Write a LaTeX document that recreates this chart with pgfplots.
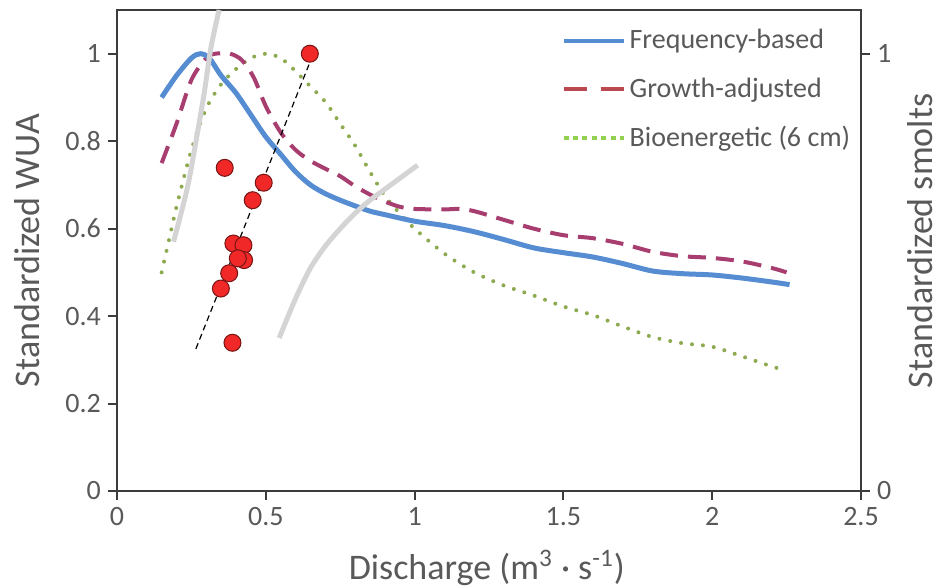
\documentclass[border=0pt]{standalone}
\usepackage{pgfplots}
\pgfplotsset{compat=1.18}
\usepackage{fontspec}
\setmainfont{Carlito}
\usetikzlibrary{calc}
\definecolor{cblue}{RGB}{86,140,210}
\definecolor{cgrowth}{RGB}{168,62,112}
\definecolor{cgrowthleg}{RGB}{185,72,80}
\definecolor{cbio}{RGB}{140,170,80}
\definecolor{cbioleg}{RGB}{146,208,80}
\definecolor{cgray}{RGB}{212,212,212}
\definecolor{cred}{RGB}{240,40,40}
\definecolor{credge}{RGB}{120,20,20}
\definecolor{ctext}{RGB}{89,89,89}
\definecolor{caxis}{RGB}{60,60,60}
\pgfplotsset{legend image code/.code={\draw[#1] (0pt,0pt) -- (30pt,0pt);}}
\begin{document}
\begin{tikzpicture}
\begin{axis}[
  scale only axis, width=372pt, height=240.5pt,
  xmin=0, xmax=2.5, ymin=0, ymax=1.1,
  xtick={0,0.5,1,1.5,2,2.5},
  ytick={0,0.2,0.4,0.6,0.8,1},
  xtick pos=bottom, ytick pos=left,
  tick align=outside, major tick length=4.5pt,
  axis line style={caxis, line width=1pt},
  every tick/.style={caxis, line width=1pt},
  /pgf/number format/assume math mode=true,
  tick label style={font=\fontsize{14}{16}\selectfont, text=ctext},
  xlabel={Discharge (m\textsuperscript{3} · s\textsuperscript{-1})},
  ylabel={Standardized WUA},
  label style={font=\fontsize{18}{20}\selectfont, text=ctext},
  xlabel style={at={(axis description cs:0.497,-0.16)}, anchor=center},
  ylabel style={at={(axis description cs:-0.121,0.5)}, anchor=center},
  legend style={at={(axis description cs:0.589,0.977)}, anchor=north west,
    draw=none, fill=none, font=\fontsize{14}{16}\selectfont, text=ctext,
    row sep=9pt, /tikz/every even column/.append style={column sep=6pt}},
  legend cell align=left,
]
\coordinate (bl) at (rel axis cs:0,0);
\coordinate (tr) at (rel axis cs:1,1);
\addlegendimage{cblue, line width=2pt}
\addlegendentry{Frequency-based}
\addlegendimage{cgrowthleg, line width=2pt, dash pattern=on 11.5pt off 7pt}
\addlegendentry{Growth-adjusted}
\addlegendimage{cbioleg, line width=2pt, dash pattern=on 2.5pt off 2.2pt}
\addlegendentry{Bioenergetic (6 cm)}
% Bioenergetic
\addplot[cbio, line width=2pt, line cap=round, dash pattern=on 0pt off 5.5pt, smooth, forget plot] coordinates {
(0.15,0.50)(0.17,0.56)(0.2,0.65)(0.25,0.78)(0.3,0.875)(0.35,0.93)(0.4,0.965)(0.45,0.99)(0.5,1.0)(0.55,0.99)(0.6,0.96)(0.65,0.925)(0.7,0.89)(0.75,0.84)(0.8,0.79)(0.85,0.73)(0.9,0.675)(0.95,0.635)(1.0,0.6)(1.1,0.543)(1.2,0.5)(1.3,0.47)(1.4,0.447)(1.5,0.422)(1.6,0.402)(1.7,0.376)(1.8,0.352)(1.9,0.338)(2.0,0.33)(2.1,0.308)(2.2,0.285)(2.25,0.275)};
% Growth-adjusted
\addplot[cgrowth, line width=2pt, dash pattern=on 9pt off 5pt, smooth, forget plot] coordinates {
(0.15,0.75)(0.2,0.84)(0.25,0.94)(0.3,0.99)(0.33,1.0)(0.38,1.0)(0.42,0.985)(0.46,0.945)(0.5,0.88)(0.55,0.82)(0.6,0.78)(0.65,0.755)(0.7,0.737)(0.75,0.72)(0.8,0.697)(0.85,0.678)(0.9,0.662)(0.95,0.65)(1.0,0.645)(1.1,0.644)(1.15,0.645)(1.2,0.64)(1.3,0.62)(1.4,0.6)(1.5,0.585)(1.6,0.578)(1.7,0.565)(1.8,0.547)(1.9,0.537)(2.0,0.533)(2.1,0.525)(2.2,0.51)(2.25,0.50)};
% Frequency-based
\addplot[cblue, line width=2.5pt, smooth, forget plot] coordinates {
(0.15,0.90)(0.2,0.95)(0.25,0.99)(0.28,1.0)(0.31,0.99)(0.35,0.95)(0.4,0.91)(0.45,0.86)(0.5,0.81)(0.55,0.77)(0.6,0.73)(0.65,0.70)(0.7,0.68)(0.75,0.665)(0.8,0.652)(0.85,0.64)(0.9,0.632)(1.0,0.617)(1.1,0.607)(1.2,0.593)(1.3,0.575)(1.4,0.556)(1.5,0.545)(1.6,0.535)(1.7,0.52)(1.8,0.503)(1.9,0.497)(2.0,0.494)(2.1,0.487)(2.2,0.478)(2.26,0.472)};
\end{axis}
\begin{axis}[
  scale only axis, width=372pt, height=240.5pt,
  xmin=0, xmax=2.5, ymin=0, ymax=1.1,
  axis x line=none, axis y line*=right,
  ytick={0,1},
  tick align=outside, major tick length=4.5pt,
  axis line style={caxis, line width=1pt},
  every tick/.style={caxis, line width=1pt},
  /pgf/number format/assume math mode=true,
  tick label style={font=\fontsize{14}{16}\selectfont, text=ctext},
  ylabel={Standardized smolts},
  label style={font=\fontsize{18}{20}\selectfont, text=ctext},
  ylabel style={at={(axis description cs:1.079,0.52)}, anchor=center},
]
\addplot[cgray, line width=2.5pt, smooth] coordinates {
(0.19,0.57)(0.237,0.695)(0.27,0.818)(0.293,0.91)(0.316,1.015)(0.343,1.10)};
\addplot[cgray, line width=2.5pt, smooth] coordinates {
(0.545,0.35)(0.6,0.44)(0.65,0.51)(0.7,0.56)(0.75,0.60)(0.8,0.635)(0.85,0.665)(0.9,0.69)(0.95,0.715)(1.01,0.745)};
\addplot[black, line width=0.6pt, dash pattern=on 3pt off 2pt] coordinates {
(0.265,0.325)(0.645,0.975)};
\addplot[only marks, mark=*, mark size=4.25pt, mark options={fill=cred, draw=credge, line width=0.5pt}] coordinates {
(0.648,1.0)(0.362,0.739)(0.493,0.705)(0.456,0.665)(0.391,0.566)(0.425,0.562)(0.427,0.528)(0.406,0.532)(0.377,0.498)(0.349,0.463)(0.388,0.339)};
\end{axis}
\pgfresetboundingbox
\path ($(bl)+(-58.5pt,-47.5pt)$) rectangle ($(tr)+(42.5pt,5pt)$);
\end{tikzpicture}
\end{document}
